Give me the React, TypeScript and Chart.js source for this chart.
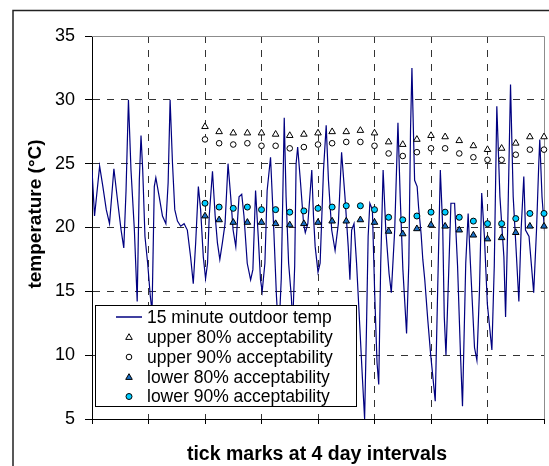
import React, { useEffect, useRef } from 'react';
import { Chart, registerables } from 'chart.js';

Chart.register(...registerables);

// 15 minute outdoor temperature trace (x in days from start, y in °C)
const lineDays = [
  0, 0.18, 0.54, 0.77, 1.01, 1.24, 1.55, 1.83, 2.06, 2.25,
  2.41, 2.58, 2.76, 3.0, 3.2, 3.35, 3.47, 3.59, 3.75, 3.94,
  4.13, 4.25, 4.41, 4.52, 4.76, 4.99, 5.23, 5.39, 5.53, 5.7,
  5.86, 6.05, 6.28, 6.52, 6.75, 6.98, 7.17, 7.34, 7.53, 7.69,
  7.88, 8.04, 8.18, 8.3, 8.53, 8.72, 8.88, 9.05, 9.23, 9.42,
  9.63, 9.82, 9.99, 10.18, 10.41, 10.6, 10.76, 10.99, 11.23, 11.39,
  11.58, 11.77, 11.93, 12.05, 12.24, 12.4, 12.64, 12.87, 13.06, 13.22,
  13.4, 13.61, 13.74, 13.92, 14.11, 14.21, 14.35, 14.45, 14.56, 14.75,
  14.98, 15.1, 15.28, 15.56, 15.68, 15.8, 16.0, 16.15, 16.39, 16.58,
  16.74, 16.97, 17.21, 17.44, 17.67, 17.91, 18.14, 18.26, 18.38, 18.55,
  18.73, 18.97, 19.15, 19.3, 19.43, 19.55, 19.67, 19.85, 20.02, 20.18,
  20.3, 20.44, 20.61, 20.8, 21.03, 21.19, 21.43, 21.66, 21.82, 22.01,
  22.27, 22.43, 22.55, 22.65, 22.72, 22.84, 23.02, 23.12, 23.3, 23.42,
  23.56, 23.77, 23.98, 24.3, 24.47, 24.66, 24.83, 24.94, 25.06, 25.18,
  25.41, 25.67, 25.88, 26.09, 26.23, 26.46, 26.63, 26.79, 27.08, 27.25,
  27.43, 27.59, 27.78, 27.99, 28.31, 28.48, 28.66, 28.88, 29.16, 29.28,
  29.43, 29.63, 29.82, 29.99, 30.22, 30.38, 30.57, 30.69, 30.94, 31.27,
  31.47, 31.63, 31.7, 31.86, 32.14,
];
const lineTemps = [
  24.5, 20.9, 24.8, 23.2, 21.4, 20.3, 24.6, 21.9, 19.8, 18.4,
  22.9, 30.0, 24.5, 19.8, 14.2, 23.7, 27.2, 24.5, 19.3, 17.2,
  14.6, 13.4, 23.2, 23.9, 22.4, 20.9, 20.3, 23.5, 30.0, 25.0,
  21.4, 20.5, 20.1, 20.3, 19.8, 17.7, 15.6, 18.8, 23.2, 21.4,
  17.7, 16.0, 17.2, 20.9, 24.4, 20.9, 18.8, 17.5, 18.8, 20.3,
  25.0, 22.4, 19.8, 18.5, 22.4, 22.6, 20.9, 17.2, 15.9, 16.7,
  22.9, 19.3, 15.9, 15.0, 17.2, 22.9, 25.5, 19.8, 14.6, 11.5,
  16.0, 28.6, 22.4, 17.2, 14.6, 12.5, 17.0, 25.0, 26.3, 23.7,
  20.3, 19.6, 20.3, 24.5, 20.9, 18.5, 16.5, 17.2, 24.5, 28.0,
  23.7, 19.8, 18.2, 20.3, 25.9, 22.4, 18.5, 15.9, 19.8, 20.3,
  17.2, 12.0, 8.1, 5.0, 12.0, 19.3, 21.9, 21.4, 14.6, 9.4,
  7.7, 17.2, 24.5, 19.8, 16.4, 14.9, 19.8, 28.2, 22.4, 16.7,
  11.7, 17.2, 27.6, 32.5, 29.2, 23.7, 23.2, 21.6, 19.5, 17.5,
  15.9, 12.8, 10.0, 6.4, 15.0, 24.5, 20.0, 13.0, 10.0, 14.0,
  21.9, 21.9, 17.0, 10.0, 6.0, 17.2, 21.1, 17.2, 10.6, 9.6,
  15.0, 22.7, 19.3, 14.0, 10.4, 17.0, 29.5, 22.4, 17.7, 13.0,
  20.0, 31.2, 22.4, 19.0, 14.2, 19.8, 24.0, 19.8, 19.3, 14.9,
  19.8, 25.0, 26.9, 22.4, 18.2,
];

// daily acceptability limits (one value per day, day 8 .. day 32)
const markerDays = [8, 9, 10, 11, 12, 13, 14, 15, 16, 17, 18, 19, 20, 21, 22, 23, 24, 25, 26, 27, 28, 29, 30, 31, 32];
const upper80 = [27.9, 27.5, 27.4, 27.4, 27.4, 27.3, 27.2, 27.3, 27.4, 27.5, 27.5, 27.6, 27.4, 26.7, 26.5, 26.9, 27.2, 27.1, 26.8, 26.4, 26.1, 26.2, 26.6, 27.1, 27.1];
const upper90 = [26.9, 26.6, 26.5, 26.6, 26.4, 26.4, 26.2, 26.3, 26.5, 26.6, 26.7, 26.7, 26.4, 25.8, 25.6, 25.9, 26.2, 26.2, 25.8, 25.5, 25.3, 25.3, 25.7, 26.1, 26.1];
const lower80 = [20.9, 20.6, 20.4, 20.4, 20.4, 20.3, 20.2, 20.3, 20.4, 20.5, 20.5, 20.6, 20.4, 19.7, 19.5, 19.9, 20.2, 20.1, 19.8, 19.4, 19.1, 19.2, 19.6, 20.1, 20.1];
const lower90 = [21.9, 21.6, 21.5, 21.6, 21.4, 21.4, 21.2, 21.3, 21.5, 21.6, 21.7, 21.7, 21.4, 20.8, 20.6, 20.9, 21.2, 21.2, 20.8, 20.5, 20.3, 20.3, 20.7, 21.1, 21.1];

const yMin = 5;
const yMax = 35;
const yStep = 5;
const xMin = 0;
const xMax = 32;
const xStep = 4;

const legendLabels = [
  '15 minute outdoor temp',
  'upper 80% acceptability',
  'upper 90% acceptability',
  'lower 80% acceptability',
  'lower 90% acceptability',
];
const yTitle = 'temperature (°C)';
const xTitle = 'tick marks at 4 day intervals';

const FONT = "'Liberation Sans', Arial, sans-serif";
const LINE_COLOR = '#000080';
const BLUE_FILL = '#1a6fc4';
const CYAN_FILL = '#00ccff';

function drawTriangle(ctx: CanvasRenderingContext2D, x: number, y: number, r: number, fill: string) {
  ctx.beginPath();
  ctx.moveTo(x, y - r);
  ctx.lineTo(x + r * 0.866, y + r * 0.5);
  ctx.lineTo(x - r * 0.866, y + r * 0.5);
  ctx.closePath();
  ctx.fillStyle = fill;
  ctx.fill();
  ctx.strokeStyle = '#000';
  ctx.lineWidth = 1;
  ctx.stroke();
}

function drawCircle(ctx: CanvasRenderingContext2D, x: number, y: number, r: number, fill: string) {
  ctx.beginPath();
  ctx.arc(x, y, r, 0, Math.PI * 2);
  ctx.fillStyle = fill;
  ctx.fill();
  ctx.strokeStyle = '#000';
  ctx.lineWidth = 1;
  ctx.stroke();
}

const decorPlugin = {
  id: 'decor',
  beforeDatasetsDraw(chart: any) {
    const { ctx, chartArea: a } = chart;
    ctx.save();
    ctx.strokeStyle = '#8c8c8c';
    ctx.lineWidth = 1;
    const top = Math.round(a.top) + 0.5;
    const right = Math.round(a.right) + 0.5;
    ctx.beginPath();
    ctx.moveTo(Math.round(a.left), top);
    ctx.lineTo(right, top);
    ctx.lineTo(right, Math.round(a.bottom));
    ctx.stroke();
    ctx.restore();
  },
  afterDraw(chart: any) {
    const { ctx } = chart;
    ctx.save();
    // legend box
    const lx = 95.5, ly = 305.5, lw = 261, lh = 101;
    ctx.fillStyle = '#fff';
    ctx.fillRect(lx, ly, lw, lh);
    ctx.strokeStyle = '#000';
    ctx.lineWidth = 1;
    ctx.strokeRect(lx, ly, lw, lh);
    const rows = [317, 337, 357, 377, 396.5];
    const mx = 129;
    ctx.strokeStyle = LINE_COLOR;
    ctx.lineWidth = 1.5;
    ctx.beginPath();
    ctx.moveTo(116, rows[0]);
    ctx.lineTo(142, rows[0]);
    ctx.stroke();
    drawTriangle(ctx, mx, rows[1] + 0.5, 3.8, '#fff');
    drawCircle(ctx, mx, rows[2], 2.8, '#fff');
    drawTriangle(ctx, mx, rows[3] + 0.5, 3.8, BLUE_FILL);
    drawCircle(ctx, mx, rows[4], 3, CYAN_FILL);
    ctx.fillStyle = '#000';
    ctx.font = `17.5px ${FONT}`;
    ctx.textAlign = 'left';
    ctx.textBaseline = 'middle';
    legendLabels.forEach((t, i) => ctx.fillText(t, 147, rows[i] + 1));

    // axis titles
    ctx.font = `bold 19.5px ${FONT}`;
    ctx.textAlign = 'center';
    ctx.textBaseline = 'alphabetic';
    ctx.fillText(xTitle, 317, 460);
    ctx.font = `bold 19px ${FONT}`;
    ctx.save();
    ctx.translate(41, 214);
    ctx.rotate(-Math.PI / 2);
    ctx.fillText(yTitle, 0, 0);
    ctx.restore();

    // outer chart border
    ctx.strokeStyle = '#222';
    ctx.lineWidth = 1.5;
    ctx.strokeRect(13, 10.5, 700, 700);
    ctx.restore();
  },
};

export default function App() {
  const canvasRef = useRef<HTMLCanvasElement | null>(null);

  useEffect(() => {
    if (!canvasRef.current) return;
    Chart.defaults.font.family = FONT;
    const toPts = (ys: number[]) => markerDays.map((d, i) => ({ x: d, y: ys[i] }));
    const gridColor = (edge: number[]) => (c: any) =>
      c.tick && edge.includes(c.tick.value) ? 'rgba(0,0,0,0)' : '#333';

    const chart = new Chart(canvasRef.current, {
      type: 'scatter',
      data: {
        datasets: [
          {
            label: legendLabels[1],
            data: toPts(upper80),
            pointStyle: 'triangle',
            pointRadius: 3.8,
            backgroundColor: '#fff',
            borderColor: '#000',
            borderWidth: 1,
            clip: false,
            order: 1,
          },
          {
            label: legendLabels[2],
            data: toPts(upper90),
            pointStyle: 'circle',
            pointRadius: 2.8,
            backgroundColor: '#fff',
            borderColor: '#000',
            borderWidth: 1,
            clip: false,
            order: 1,
          },
          {
            label: legendLabels[3],
            data: toPts(lower80),
            pointStyle: 'triangle',
            pointRadius: 3.8,
            backgroundColor: BLUE_FILL,
            borderColor: '#000',
            borderWidth: 1,
            clip: false,
            order: 1,
          },
          {
            label: legendLabels[4],
            data: toPts(lower90),
            pointStyle: 'circle',
            pointRadius: 3,
            backgroundColor: CYAN_FILL,
            borderColor: '#000',
            borderWidth: 1,
            clip: false,
            order: 1,
          },
          {
            label: legendLabels[0],
            data: lineDays.map((d, i) => ({ x: d, y: lineTemps[i] })),
            showLine: true,
            borderColor: LINE_COLOR,
            borderWidth: 1.2,
            pointRadius: 0,
            tension: 0,
            order: 2,
          } as any,
        ],
      },
      options: {
        responsive: false,
        animation: false,
        devicePixelRatio: 1,
        layout: { padding: { top: 36, right: 2, left: 0, bottom: 0 } },
        plugins: {
          legend: { display: false },
          tooltip: { enabled: false },
        },
        scales: {
          x: {
            type: 'linear',
            min: xMin,
            max: xMax,
            ticks: { stepSize: xStep, callback: () => '', maxRotation: 0, autoSkip: false },
            grid: {
              color: gridColor([xMin, xMax]),
              tickColor: '#000',
              tickLength: 5,
              lineWidth: 1,
            },
            border: { display: true, color: '#000', width: 1, dash: [7, 7] },
            afterFit: (s: any) => {
              s.height = 47;
            },
          },
          y: {
            type: 'linear',
            min: yMin,
            max: yMax,
            ticks: { stepSize: yStep, padding: 10, color: '#000', font: { size: 18, family: FONT } },
            grid: {
              color: gridColor([yMin, yMax]),
              tickColor: '#000',
              tickLength: 7,
              lineWidth: 1,
            },
            border: { display: true, color: '#000', width: 1, dash: [7, 7] },
            afterFit: (s: any) => {
              s.width = 92;
            },
          },
        },
      } as any,
      plugins: [decorPlugin],
    });
    return () => chart.destroy();
  }, []);

  return (
    <div style={{ position: 'absolute', left: 0, top: 0, width: 549, height: 466, background: '#fff' }}>
      <canvas ref={canvasRef} width={549} height={466} style={{ display: 'block', width: 549, height: 466 }} />
    </div>
  );
}
